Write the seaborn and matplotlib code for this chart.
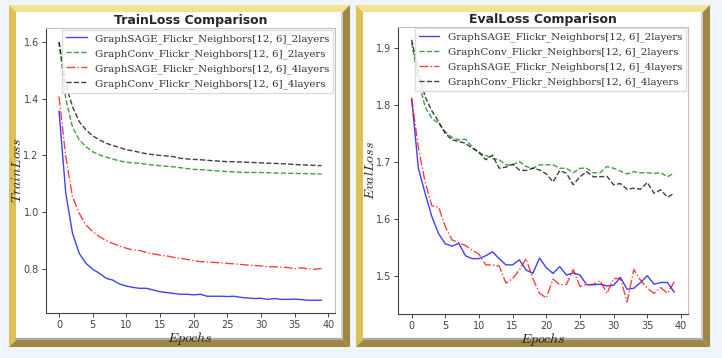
import numpy as np
import pandas as pd
import matplotlib.pyplot as plt
from matplotlib.patches import Polygon, Rectangle
from matplotlib.lines import Line2D
import seaborn as sns

sns.set_style('ticks')
plt.rcParams['font.family'] = ['DejaVu Sans']
plt.rcParams['mathtext.fontset'] = 'cm'

# ---- data ----
epochs = list(range(40))

series_labels = [
    'GraphSAGE_Flickr_Neighbors[12, 6]_2layers',
    'GraphConv_Flickr_Neighbors[12, 6]_2layers',
    'GraphSAGE_Flickr_Neighbors[12, 6]_4layers',
    'GraphConv_Flickr_Neighbors[12, 6]_4layers',
]

train_sage_2 = [1.357, 1.067, 0.926, 0.855, 0.820, 0.799, 0.785, 0.767, 0.761, 0.747,
                0.740, 0.735, 0.732, 0.732, 0.726, 0.720, 0.717, 0.714, 0.711, 0.711,
                0.709, 0.711, 0.704, 0.704, 0.704, 0.703, 0.704, 0.700, 0.698, 0.696,
                0.697, 0.693, 0.696, 0.693, 0.693, 0.694, 0.692, 0.690, 0.690, 0.690]
train_conv_2 = [1.600, 1.400, 1.300, 1.255, 1.231, 1.213, 1.202, 1.194, 1.187, 1.181,
                1.176, 1.174, 1.172, 1.169, 1.166, 1.164, 1.162, 1.160, 1.157, 1.154,
                1.151, 1.150, 1.148, 1.146, 1.145, 1.143, 1.142, 1.141, 1.140, 1.140,
                1.140, 1.139, 1.138, 1.138, 1.137, 1.137, 1.136, 1.136, 1.135, 1.135]
train_sage_4 = [1.407, 1.196, 1.055, 0.996, 0.955, 0.932, 0.914, 0.900, 0.890, 0.881,
                0.873, 0.867, 0.865, 0.858, 0.853, 0.849, 0.846, 0.841, 0.838, 0.834,
                0.829, 0.826, 0.825, 0.823, 0.822, 0.820, 0.818, 0.816, 0.814, 0.812,
                0.811, 0.808, 0.808, 0.806, 0.805, 0.801, 0.804, 0.801, 0.799, 0.802]
train_conv_4 = [1.600, 1.450, 1.372, 1.319, 1.290, 1.269, 1.255, 1.243, 1.235, 1.228,
                1.220, 1.216, 1.211, 1.206, 1.203, 1.200, 1.198, 1.196, 1.190, 1.188,
                1.186, 1.185, 1.183, 1.181, 1.180, 1.178, 1.178, 1.177, 1.176, 1.175,
                1.174, 1.173, 1.172, 1.171, 1.170, 1.168, 1.167, 1.166, 1.165, 1.164]

eval_sage_2 = [1.812, 1.689, 1.645, 1.604, 1.574, 1.556, 1.552, 1.557, 1.535, 1.530,
               1.530, 1.535, 1.542, 1.530, 1.519, 1.519, 1.528, 1.510, 1.504, 1.531,
               1.514, 1.504, 1.516, 1.501, 1.505, 1.501, 1.484, 1.484, 1.485, 1.482,
               1.483, 1.497, 1.476, 1.478, 1.488, 1.500, 1.485, 1.488, 1.488, 1.471]
eval_conv_2 = [1.910, 1.844, 1.797, 1.777, 1.768, 1.753, 1.743, 1.739, 1.740, 1.727,
               1.715, 1.712, 1.706, 1.704, 1.695, 1.695, 1.701, 1.692, 1.689, 1.695,
               1.695, 1.695, 1.689, 1.689, 1.681, 1.689, 1.689, 1.681, 1.681, 1.692,
               1.689, 1.684, 1.679, 1.683, 1.681, 1.681, 1.680, 1.681, 1.674, 1.681]
eval_sage_4 = [1.812, 1.725, 1.665, 1.623, 1.621, 1.586, 1.563, 1.558, 1.553, 1.545,
               1.538, 1.519, 1.519, 1.517, 1.487, 1.495, 1.510, 1.530, 1.495, 1.469,
               1.461, 1.494, 1.484, 1.485, 1.511, 1.481, 1.484, 1.485, 1.491, 1.469,
               1.495, 1.495, 1.454, 1.511, 1.492, 1.478, 1.469, 1.479, 1.469, 1.489]
eval_conv_4 = [1.915, 1.860, 1.815, 1.790, 1.771, 1.750, 1.739, 1.736, 1.733, 1.724,
               1.718, 1.704, 1.712, 1.689, 1.691, 1.696, 1.686, 1.685, 1.689, 1.686,
               1.679, 1.665, 1.685, 1.680, 1.660, 1.674, 1.683, 1.674, 1.674, 1.675,
               1.660, 1.662, 1.652, 1.654, 1.652, 1.664, 1.645, 1.651, 1.638, 1.645]

train_ticks = [0.8, 1.0, 1.2, 1.4, 1.6]
eval_ticks = [1.5, 1.6, 1.7, 1.8, 1.9]
epoch_ticks = [0, 5, 10, 15, 20, 25, 30, 35, 40]

# ---- styling ----
line_styles = [
    dict(color='blue', linestyle='-'),
    dict(color='green', linestyle='--'),
    dict(color='red', linestyle='-.'),
    dict(color='black', linestyle='--'),
]

W, H = 722, 358
BG = '#eef6fc'
GOLD_TOP = '#f1e294'
GOLD_LEFT = '#dfc055'
BRONZE = '#9e8840'


def fx(x):
    return x / W


def fy(y):
    return 1 - y / H


def draw_frame(fig, x0, y0, x1, y1, w=7):
    # beveled golden frame around a panel, pixel coords from top-left
    def poly(pts, color):
        p = Polygon([(fx(a), fy(b)) for a, b in pts], closed=True,
                    transform=fig.transFigure, facecolor=color,
                    edgecolor='none', zorder=-3)
        fig.add_artist(p)

    poly([(x0, y0), (x1, y0), (x1 - w, y0 + w), (x0 + w, y0 + w)], GOLD_TOP)
    poly([(x0, y0), (x0 + w, y0 + w), (x0 + w, y1 - w), (x0, y1)], GOLD_LEFT)
    poly([(x1, y0), (x1, y1), (x1 - w, y1 - w), (x1 - w, y0 + w)], BRONZE)
    poly([(x0, y1), (x1, y1), (x1 - w, y1 - w), (x0 + w, y1 - w)], BRONZE)

    inner = Rectangle((fx(x0 + w), fy(y1 - w)), (x1 - x0 - 2 * w) / W,
                      (y1 - y0 - 2 * w) / H, transform=fig.transFigure,
                      facecolor='white', edgecolor='none', zorder=-2)
    fig.add_artist(inner)
    # soft grey inner shadow on bottom and right
    fig.add_artist(Line2D([fx(x0 + w), fx(x1 - w - 1)], [fy(y1 - w - 1), fy(y1 - w - 1)],
                          transform=fig.transFigure, color='#a8a8a8', lw=1.6, zorder=-1))
    fig.add_artist(Line2D([fx(x1 - w - 1), fx(x1 - w - 1)], [fy(y0 + w), fy(y1 - w - 1)],
                          transform=fig.transFigure, color='#c8c8c8', lw=1.2, zorder=-1))


def style_axes(ax):
    for side in ['left', 'bottom']:
        ax.spines[side].set_color('#444444')
        ax.spines[side].set_linewidth(0.8)
    for side in ['top', 'right']:
        ax.spines[side].set_color('#c0c0c0')
        ax.spines[side].set_linewidth(0.8)
    ax.tick_params(axis='both', labelsize=7, colors='#444444', length=3, width=0.7, pad=2)
    ax.set_facecolor('white')


def draw_panel(ax, series, title, ylabel, yticks, ylim):
    for vals, label, st in zip(series, series_labels, line_styles):
        sns.lineplot(x=epochs, y=vals, ax=ax, label=label, linewidth=1.0,
                     alpha=0.75, **st)
    ax.set_xlim(-1.98, 41.0)
    ax.set_ylim(*ylim)
    ax.set_xticks(epoch_ticks)
    ax.set_yticks(yticks)
    ax.set_title(title, fontsize=9, fontweight='bold', pad=3)
    ax.set_xlabel('$Epochs$', fontsize=10, color='#222222')
    ax.set_ylabel('$' + ylabel + '$', fontsize=10, color='#222222')
    ax.xaxis.set_label_coords(0.5, -0.058)
    ax.yaxis.set_label_coords(-0.074, 0.5)
    style_axes(ax)
    leg = ax.legend(loc='upper right', prop={'family': 'DejaVu Serif', 'size': 7.4},
                    frameon=True, fancybox=False, borderaxespad=0.15,
                    edgecolor='#d8d8d8', framealpha=0.85)
    for t in leg.get_texts():
        t.set_color('#333333')


fig = plt.figure(figsize=(W / 100, H / 100), dpi=100)
fig.patch.set_facecolor(BG)

draw_frame(fig, 9, 5, 350, 347)
draw_frame(fig, 356, 5, 710, 347)

ax1 = fig.add_axes([fx(45.7), fy(313), (335 - 45.7) / W, (313 - 28) / H])
ax2 = fig.add_axes([fx(398.3), fy(314), (687.7 - 398.3) / W, (314 - 26.7) / H])

draw_panel(ax1, [train_sage_2, train_conv_2, train_sage_4, train_conv_4],
           'TrainLoss Comparison', 'TrainLoss', train_ticks, (0.645, 1.649))
draw_panel(ax2, [eval_sage_2, eval_conv_2, eval_sage_4, eval_conv_4],
           'EvalLoss Comparison', 'EvalLoss', eval_ticks, (1.4326, 1.938))

fig.savefig('out.png', dpi=100, facecolor=BG)
